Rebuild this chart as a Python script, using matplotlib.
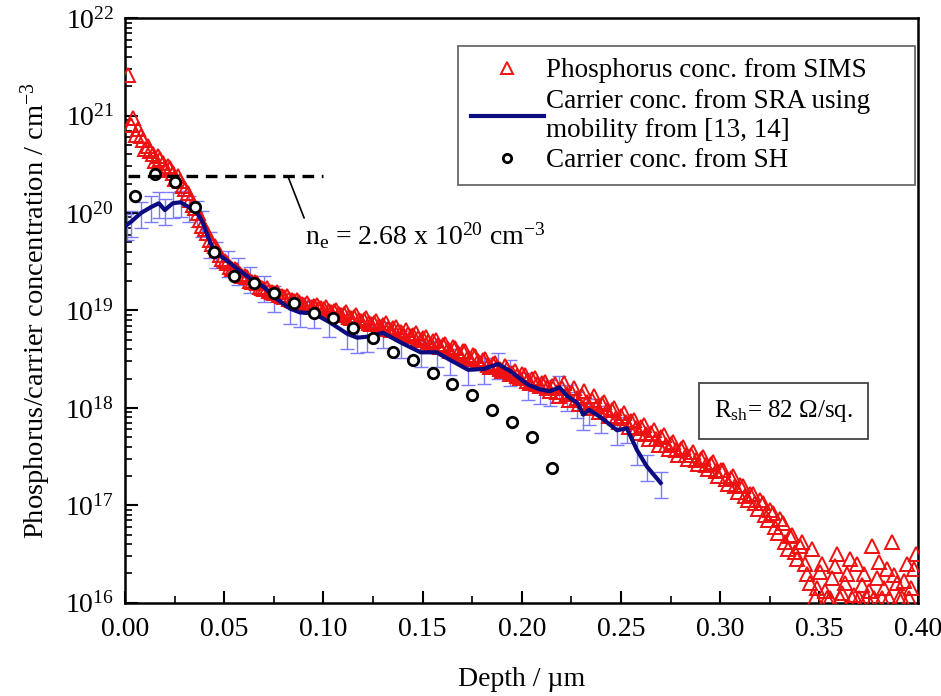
import numpy as np
import matplotlib
matplotlib.use('Agg')
import matplotlib.pyplot as plt
from matplotlib.ticker import MultipleLocator, FixedLocator, NullFormatter, LogFormatterMathtext

plt.rcParams['font.family'] = ['Liberation Serif', 'DejaVu Serif']
plt.rcParams['mathtext.fontset'] = 'custom'
plt.rcParams['mathtext.rm'] = 'Liberation Serif'
plt.rcParams['mathtext.it'] = 'Liberation Serif:italic'

# SIMS phosphorus profile (log10 of conc.), read every 2.5 nm from 1.5 nm
sims_log = [
    21.42, 20.97, 20.86, 20.75, 20.69, 20.61, 20.58, 20.51, 20.48, 20.41,
    20.38, 20.28, 20.20, 20.08, 20.00, 19.87, 19.79, 19.68, 19.62, 19.53,
    19.49, 19.43, 19.41, 19.35, 19.34, 19.29, 19.28, 19.23, 19.23, 19.19,
    19.19, 19.15, 19.15, 19.11, 19.11, 19.07, 19.08, 19.04, 19.06, 19.02,
    19.03, 18.98, 19.00, 18.95, 18.98, 18.92, 18.95, 18.89, 18.92, 18.86,
    18.89, 18.83, 18.87, 18.80, 18.83, 18.78, 18.80, 18.74, 18.77, 18.70,
    18.73, 18.66, 18.70, 18.62, 18.66, 18.58, 18.61, 18.54, 18.58, 18.50,
    18.53, 18.46, 18.50, 18.42, 18.46, 18.40, 18.43, 18.35, 18.38, 18.31,
    18.34, 18.26, 18.31, 18.22, 18.27, 18.17, 18.24, 18.12, 18.25, 18.08,
    18.20, 18.04, 18.17, 18.00, 18.12, 17.96, 18.06, 17.92, 18.00, 17.85,
    17.95, 17.80, 17.88, 17.74, 17.82, 17.68, 17.77, 17.62, 17.72, 17.58,
    17.65, 17.52, 17.60, 17.47, 17.55, 17.42, 17.50, 17.37, 17.44, 17.30,
    17.36, 17.22, 17.30, 17.14, 17.20, 17.05, 17.12, 16.96, 17.02, 16.85,
    16.92, 16.72, 16.82, 16.55, 16.70, 16.45,
    16.62, 16.30, 16.55, 16.15, 16.40, 16.05, 16.25, 16.50, 16.10, 16.30,
    16.05, 16.40, 16.18, 16.05, 16.58, 16.25, 16.05, 16.35, 16.62, 16.20,
    16.05, 16.40, 16.15, 16.50,
]
# interleaved SIMS points, read every 2.5 nm from 2.75 nm
sims_log_mid = [
    20.90, 20.80, 20.79, 20.66, 20.64, 20.53, 20.55, 20.44, 20.46, 20.35,
    20.33, 20.25, 20.13, 20.05, 19.93, 19.84, 19.72, 19.66, 19.57, 19.51,
    19.45, 19.43, 19.37, 19.35, 19.30, 19.29, 19.24, 19.22, 19.20, 19.18,
    19.16, 19.14, 19.12, 19.10, 19.09, 19.06, 19.05, 19.05, 19.02, 19.01,
    18.99, 18.99, 18.96, 18.96, 18.93, 18.93, 18.90, 18.90, 18.87, 18.87,
    18.84, 18.85, 18.81, 18.82, 18.79, 18.76, 18.76, 18.75, 18.72, 18.72,
    18.68, 18.69, 18.64, 18.65, 18.60, 18.62, 18.56, 18.58, 18.52, 18.54,
    18.48, 18.49, 18.44, 18.45, 18.42, 18.38, 18.40, 18.36, 18.33, 18.35,
    18.28, 18.30, 18.24, 18.26, 18.20, 18.22, 18.16, 18.20, 18.14, 18.15,
    18.10, 18.12, 18.06, 18.08, 18.02, 18.04, 17.98, 17.98, 17.90, 17.92,
    17.85, 17.86, 17.79, 17.80, 17.73, 17.74, 17.68, 17.70, 17.62, 17.63,
    17.57, 17.58, 17.52, 17.52, 17.46, 17.47, 17.41, 17.42, 17.35, 17.36,
    17.27, 17.28, 17.20, 17.21, 17.10, 17.12, 17.02, 17.05, 16.90, 16.95,
    16.78, 16.86, 16.62, 16.68, 16.52, 16.58,
    16.40, 16.20, 16.05, 16.32, 16.12, 16.05, 16.38, 16.05, 16.20, 16.45,
    16.08, 16.05, 16.30, 16.12, 16.05, 16.42, 16.15, 16.05, 16.28, 16.05,
    16.22, 16.05, 16.35,
]
sims_depth = np.concatenate([0.0015 + 0.0025 * np.arange(len(sims_log)),
                             0.00275 + 0.0025 * np.arange(len(sims_log_mid))])
sims_conc = 10 ** np.array(sims_log + sims_log_mid)

# SRA carrier profile
sra_depth = [0.001, 0.003, 0.008, 0.013, 0.017, 0.020, 0.024, 0.028, 0.032, 0.036,
             0.039, 0.043, 0.046, 0.052, 0.057, 0.063, 0.070, 0.075, 0.083, 0.088,
             0.095, 0.103, 0.112, 0.117, 0.122, 0.130, 0.139, 0.149, 0.157, 0.164,
             0.173, 0.181, 0.188, 0.194, 0.203, 0.209, 0.214, 0.219, 0.223, 0.228,
             0.231, 0.234, 0.240, 0.248, 0.253, 0.258, 0.263, 0.270]
sra_log = [19.88, 19.91, 20.00, 20.06, 20.10, 20.03, 20.10, 20.11, 20.06, 20.01,
           19.91, 19.69, 19.59, 19.50, 19.42, 19.33, 19.24, 19.14, 19.02, 18.98,
           18.97, 18.88, 18.76, 18.72, 18.73, 18.77, 18.67, 18.57, 18.57, 18.49,
           18.39, 18.40, 18.45, 18.38, 18.24, 18.19, 18.17, 18.21, 18.12, 18.05,
           17.93, 17.98, 17.90, 17.77, 17.79, 17.57, 17.40, 17.23]
sra_conc = 10 ** np.array(sra_log)
sra_rel_err = 0.3

# Sheet Hall carrier profile
sh_depth = [0.005, 0.015, 0.025, 0.035, 0.045, 0.055, 0.065, 0.075, 0.085, 0.095,
            0.105, 0.115, 0.125, 0.135, 0.145, 0.155, 0.165, 0.175, 0.185, 0.195,
            0.205, 0.215]
sh_conc = [1.49e20, 2.5e20, 2.1e20, 1.15e20, 4.0e19, 2.25e19, 1.9e19, 1.5e19, 1.2e19, 9.3e18,
           8.3e18, 6.6e18, 5.2e18, 3.7e18, 3.1e18, 2.3e18, 1.77e18, 1.35e18, 9.6e17, 7.2e17,
           5.0e17, 2.4e17]

# dashed ne level as drawn in the figure
ne_line_level = 2.4e20
ne_depth_range = [0.0015, 0.100]

y_decades = [1e16, 1e17, 1e18, 1e19, 1e20, 1e21, 1e22]

fig = plt.figure(figsize=(9.41, 6.96), dpi=100)
ax = fig.add_axes([0.133, 0.134, 0.843, 0.840])

ax.errorbar(sra_depth, sra_conc, yerr=sra_conc * sra_rel_err, fmt='none',
            ecolor='#7a7aff', elinewidth=1.0, capsize=5, capthick=1.0, zorder=2)
ax.plot(sims_depth, sims_conc, linestyle='none', marker='^', markersize=10,
        markerfacecolor='none', markeredgecolor='#ee1111', markeredgewidth=1.4,
        zorder=3, label='Phosphorus conc. from SIMS')
ax.plot(sra_depth, sra_conc, color='#0c0c80', linewidth=3, zorder=4,
        label='Carrier conc. from SRA using\nmobility from [13, 14]')
ax.plot(sh_depth, sh_conc, linestyle='none', marker='o', markersize=7.5,
        markerfacecolor='white', markeredgecolor='black', markeredgewidth=2,
        zorder=5, label='Carrier conc. from SH')

ax.plot(ne_depth_range, [ne_line_level, ne_line_level], color='black', linewidth=2.4,
        dashes=(3.5, 2.3), zorder=6)
ax.annotate('n$_{\\rm e}$ = 2.68 x 10$^{20}$ cm$^{-3}$', xy=(0.082, ne_line_level),
            xytext=(0.227, 0.612), textcoords='axes fraction', fontsize=20,
            arrowprops=dict(arrowstyle='-', color='black', lw=1.2,
                            shrinkA=0, shrinkB=0, relpos=(0.0, 1.0)))

ax.text(0.830, 0.328, 'R$_{\\rm sh}$= 82 \u03a9/sq.', transform=ax.transAxes,
        fontsize=18, ha='center', va='center',
        bbox=dict(boxstyle='square,pad=0.6', facecolor='white', edgecolor='#444444', linewidth=1.3))

ax.set_yscale('log')
ax.set_xlim(0, 0.40)
ax.set_ylim(1e16, 1e22)
ax.xaxis.set_major_locator(MultipleLocator(0.05))
ax.xaxis.set_minor_locator(MultipleLocator(0.025))
ax.xaxis.set_major_formatter(plt.FuncFormatter(lambda v, p: f'{v:.2f}'))
ax.yaxis.set_major_locator(FixedLocator(y_decades))
ax.yaxis.set_major_formatter(LogFormatterMathtext())
ax.yaxis.set_minor_locator(FixedLocator([m * d for d in y_decades[:-1] for m in range(2, 10)]))
ax.yaxis.set_minor_formatter(NullFormatter())

ax.tick_params(axis='both', which='major', direction='in', length=9, width=1.5,
               labelsize=20, top=False, right=False)
ax.tick_params(axis='both', which='minor', direction='in', length=5, width=1.2,
               top=False, right=False)
ax.tick_params(axis='x', pad=10)
ax.tick_params(axis='y', pad=8)
for s in ax.spines.values():
    s.set_linewidth(1.8)

ax.set_xlabel('Depth / \u00b5m', fontsize=20, labelpad=18)
ax.set_ylabel('Phosphorus/carrier concentration / cm$^{-3}$', fontsize=20.5, labelpad=9)

leg = ax.legend(loc='upper left', bbox_to_anchor=(0.420, 0.952, 0.576, 0.0), mode='expand',
                fontsize=19.5, frameon=True, fancybox=False, edgecolor='#444444',
                handlelength=2.7, handletextpad=0.1, labelspacing=0.2,
                borderpad=0.45, borderaxespad=0, markerscale=0.8)
leg.get_frame().set_linewidth(1.3)

fig.savefig('out.png', dpi=100)
